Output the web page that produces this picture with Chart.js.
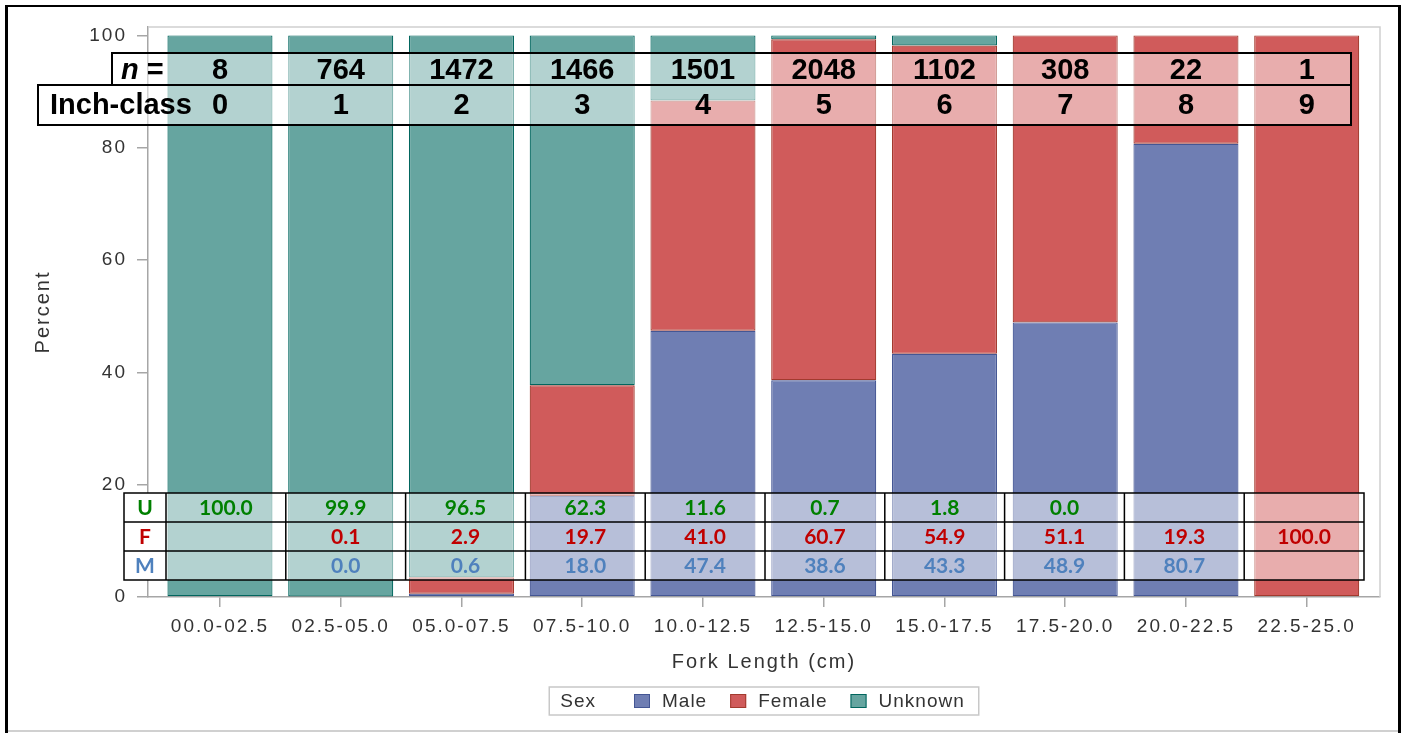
<!DOCTYPE html>
<html>
<head>
<meta charset="utf-8">
<title>Sex by fork length</title>
<script src="https://cdn.jsdelivr.net/npm/chart.js@4/dist/chart.umd.min.js"></script>
<style>
  html, body { margin: 0; padding: 0; background: #fff; }
  canvas { display: block; }
</style>
</head>
<body>
<canvas id="sexChart" width="1408" height="733"></canvas>
<script>
// Fork length classes (cm) and percent by sex
const categories = ['00.0-02.5', '02.5-05.0', '05.0-07.5', '07.5-10.0', '10.0-12.5',
                    '12.5-15.0', '15.0-17.5', '17.5-20.0', '20.0-22.5', '22.5-25.0'];
const male    = [null, 0.0, 0.6, 18.0, 47.4, 38.6, 43.3, 48.9, 80.7, null];
const female  = [null, 0.1, 2.9, 19.7, 41.0, 60.7, 54.9, 51.1, 19.3, 100.0];
const unknown = [100.0, 99.9, 96.5, 62.3, 11.6, 0.7, 1.8, 0.0, null, null];
const sampleSizes = [8, 764, 1472, 1466, 1501, 2048, 1102, 308, 22, 1];
const inchClasses = [0, 1, 2, 3, 4, 5, 6, 7, 8, 9];
const yTicks = [0, 20, 40, 60, 80, 100];

const SAS_FONT = "'Liberation Sans', Arial, sans-serif";
const TABLE_FONT = "Lato, 'Open Sans', sans-serif";
const TEXT_GREY = '#333333';
const AXIS_GREY = '#a6a6a6';

const points = arr => arr.map((v, i) => ({ x: i, y: v })).filter(p => p.y !== null);

const barStyle = { borderWidth: 1.2, borderSkipped: false, barPercentage: 0.87, categoryPercentage: 1 };

// SAS text in the picture is horizontally stretched; letter spacing mimics that
const letterSpacing = {
  id: 'letterSpacing',
  beforeUpdate(chart) { chart.ctx.letterSpacing = '2px'; },
  beforeDraw(chart) { chart.ctx.letterSpacing = '2px'; }
};

// light grey frame on top and right of the plot area
const plotFrame = {
  id: 'plotFrame',
  beforeDatasetsDraw(chart) {
    const { ctx, chartArea: a } = chart;
    ctx.save();
    ctx.strokeStyle = '#cfcfcf';
    ctx.lineWidth = 1.5;
    ctx.beginPath();
    ctx.moveTo(a.left, a.top);
    ctx.lineTo(a.right, a.top);
    ctx.lineTo(a.right, a.bottom);
    ctx.stroke();
    ctx.restore();
  }
};

// n = / Inch-class boxes at the top, aligned with the bars
const topTable = {
  id: 'topTable',
  afterDatasetsDraw(chart) {
    const { ctx } = chart;
    const x = chart.scales.x;
    const right = 1351;
    ctx.save();
    ctx.letterSpacing = '0px';
    ctx.fillStyle = 'rgba(255,255,255,0.5)';
    ctx.fillRect(112, 53, right - 112, 32);
    ctx.fillRect(38, 85, right - 38, 40);

    ctx.fillStyle = '#000';
    ctx.textBaseline = 'alphabetic';
    ctx.textAlign = 'left';
    ctx.font = `italic bold 29px ${SAS_FONT}`;
    ctx.fillText('n', 121, 79);
    const nw = ctx.measureText('n').width;
    ctx.font = `bold 29px ${SAS_FONT}`;
    ctx.fillText(' =', 121 + nw, 79);
    ctx.fillText('Inch-class', 50, 114);

    ctx.textAlign = 'center';
    sampleSizes.forEach((n, i) => ctx.fillText(String(n), x.getPixelForValue(i), 79));
    inchClasses.forEach((c, i) => ctx.fillText(String(c), x.getPixelForValue(i), 114));

    ctx.strokeStyle = '#000';
    ctx.lineWidth = 2;
    ctx.strokeRect(112, 53, right - 112, 32);
    ctx.strokeRect(38, 85, right - 38, 40);
    ctx.restore();
  }
};

// U / F / M percent grid at the bottom
const bottomTable = {
  id: 'bottomTable',
  afterDatasetsDraw(chart) {
    const { ctx } = chart;
    const left = 124, top = 493, headW = 42, colW = 119.8, rowH = 29;
    const rows = [
      { key: 'U', color: '#008000', values: unknown },
      { key: 'F', color: '#C00000', values: female },
      { key: 'M', color: '#4F81BD', values: male }
    ];
    const width = headW + colW * categories.length;
    const height = rowH * rows.length;
    ctx.save();
    ctx.letterSpacing = '0px';
    ctx.fillStyle = '#fff';
    ctx.fillRect(left, top, headW, height);
    ctx.fillStyle = 'rgba(255,255,255,0.5)';
    ctx.fillRect(left + headW, top, width - headW, height);

    ctx.font = `bold 21px ${TABLE_FONT}`;
    ctx.textAlign = 'center';
    ctx.textBaseline = 'alphabetic';
    rows.forEach((r, ri) => {
      const y = top + ri * rowH + 22;
      ctx.fillStyle = r.color;
      ctx.fillText(r.key, left + headW / 2, y);
      r.values.forEach((v, ci) => {
        if (v === null) return;
        ctx.fillText(v.toFixed(1), left + headW + colW * (ci + 0.5), y);
      });
    });

    ctx.strokeStyle = '#000';
    ctx.lineWidth = 1.5;
    ctx.strokeRect(left, top, width, height);
    ctx.beginPath();
    for (let r = 1; r < rows.length; r++) {
      ctx.moveTo(left, top + r * rowH);
      ctx.lineTo(left + width, top + r * rowH);
    }
    for (let c = 0; c < categories.length; c++) {
      const cx = left + headW + c * colW;
      ctx.moveTo(cx, top);
      ctx.lineTo(cx, top + height);
    }
    ctx.stroke();
    ctx.restore();
  }
};

// SAS-style legend box: "Sex  [] Male  [] Female  [] Unknown"
const sasLegend = {
  id: 'sasLegend',
  afterDraw(chart) {
    const { ctx, chartArea: a } = chart;
    const sets = chart.data.datasets;
    const top = 687, h = 28, cy = top + h / 2;
    ctx.save();
    ctx.letterSpacing = '1px';
    ctx.font = `19px ${SAS_FONT}`;
    const sw = 16, sh = 14, padL = 11, padR = 14, afterTitle = 38, swGap = 12, itemGap = 23;
    const titleW = ctx.measureText('Sex').width;
    const widths = sets.map(d => ctx.measureText(d.label).width);
    let total = padL + titleW + afterTitle + padR;
    widths.forEach((w, i) => { total += sw + swGap + w + (i < widths.length - 1 ? itemGap : 0); });
    const left = (a.left + a.right) / 2 - total / 2;

    ctx.strokeStyle = '#c8c8c8';
    ctx.lineWidth = 1.5;
    ctx.strokeRect(left, top, total, h);

    ctx.fillStyle = TEXT_GREY;
    ctx.textBaseline = 'middle';
    ctx.textAlign = 'left';
    let x = left + padL;
    ctx.fillText('Sex', x, cy + 1);
    x += titleW + afterTitle;
    sets.forEach((d, i) => {
      ctx.fillStyle = d.backgroundColor;
      ctx.fillRect(x, cy - sh / 2, sw, sh);
      ctx.strokeStyle = d.borderColor;
      ctx.lineWidth = 1;
      ctx.strokeRect(x + 0.5, cy - sh / 2 + 0.5, sw - 1, sh - 1);
      x += sw + swGap;
      ctx.fillStyle = TEXT_GREY;
      ctx.fillText(d.label, x, cy + 1);
      x += widths[i] + itemGap;
    });
    ctx.restore();
  }
};

// outer picture border
const pageBorder = {
  id: 'pageBorder',
  afterDraw(chart) {
    const { ctx } = chart;
    ctx.save();
    ctx.fillStyle = '#d0d0d0';
    ctx.fillRect(8, 730, 1390, 2);
    ctx.fillStyle = '#000';
    ctx.fillRect(5, 5, 3, 728);
    ctx.fillRect(5, 5, 1396, 2);
    ctx.fillRect(1398, 5, 3, 728);
    ctx.restore();
  }
};

const ctx = document.getElementById('sexChart').getContext('2d');
new Chart(ctx, {
  type: 'bar',
  data: {
    datasets: [
      { label: 'Male', data: points(male), backgroundColor: '#6F7EB3', borderColor: '#445694', ...barStyle },
      { label: 'Female', data: points(female), backgroundColor: '#D05B5B', borderColor: '#A23A2E', ...barStyle },
      { label: 'Unknown', data: points(unknown), backgroundColor: '#66A5A0', borderColor: '#01665E', ...barStyle }
    ]
  },
  options: {
    responsive: false,
    animation: false,
    events: [],
    layout: { padding: { left: 0, top: 27, right: 28, bottom: 0 } },
    plugins: {
      legend: { display: false },
      tooltip: { enabled: false }
    },
    scales: {
      x: {
        type: 'linear',
        stacked: true,
        offset: false,
        min: -0.596,
        max: 9.607,
        afterBuildTicks: s => { s.ticks = categories.map((c, i) => ({ value: i })); },
        afterFit: s => { s.height = 136; },
        ticks: {
          callback: v => categories[v],
          autoSkip: false,
          maxRotation: 0,
          padding: 8,
          color: TEXT_GREY,
          font: { family: SAS_FONT, size: 19 }
        },
        grid: { offset: false, drawOnChartArea: false, tickLength: 10, color: AXIS_GREY, lineWidth: 1.5 },
        border: { color: AXIS_GREY, width: 1.5 },
        title: {
          display: true,
          text: 'Fork Length (cm)',
          color: TEXT_GREY,
          font: { family: SAS_FONT, size: 20 },
          padding: { top: 0, bottom: 59 }
        }
      },
      y: {
        stacked: true,
        min: 0,
        max: 101.5,
        afterBuildTicks: s => { s.ticks = yTicks.map(v => ({ value: v })); },
        afterFit: s => { s.width = 148; },
        ticks: {
          padding: 10,
          color: TEXT_GREY,
          font: { family: SAS_FONT, size: 19 }
        },
        grid: { drawOnChartArea: false, tickLength: 11, color: AXIS_GREY, lineWidth: 1.5 },
        border: { color: AXIS_GREY, width: 1.5 },
        title: {
          display: true,
          text: 'Percent',
          color: TEXT_GREY,
          font: { family: SAS_FONT, size: 20 },
          padding: { top: 31, bottom: 0 }
        }
      }
    }
  },
  plugins: [letterSpacing, plotFrame, topTable, bottomTable, sasLegend, pageBorder]
});
</script>
</body>
</html>
